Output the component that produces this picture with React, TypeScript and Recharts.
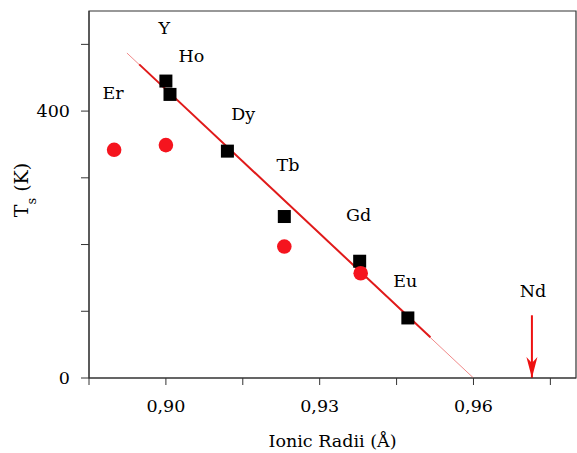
import React from "react";
import {
  ComposedChart,
  Line,
  Scatter,
  XAxis,
  YAxis,
  ReferenceArea,
  Label,
} from "recharts";

// ionic radius (Å) vs T_s (K)
const squareRadii = [0.9, 0.9008, 0.912, 0.9231, 0.9378, 0.9472];
const squareTs = [445, 425, 340, 242, 175, 90];

const circleRadii = [0.8899, 0.9, 0.9231, 0.938];
const circleTs = [342, 349, 197, 157];

// linear fit: faint full extent + solid central part
const fitRadii = [0.8924, 0.96];
const fitTs = [487, 0];
const fitBoldRadii = [0.8948, 0.9516];
const fitBoldTs = [470, 61];

// Nd marker arrow
const ndRadius = 0.9714;
const ndArrowTs = [94, 0];

// element names and where they sit (data units)
const elemNames = ["Y", "Ho", "Er", "Dy", "Tb", "Gd", "Eu", "Nd"];
const elemRadii = [0.8997, 0.905, 0.8897, 0.9151, 0.9238, 0.9376, 0.9467, 0.9716];
const elemTs = [524, 482, 428, 396, 319, 245, 145, 130];

const xTicks = [0.885, 0.9, 0.915, 0.93, 0.945, 0.96, 0.975];
const xLabeled = [0.9, 0.93, 0.96];
const yTicks = [0, 100, 200, 300, 400, 500];
const yLabeled = [0, 400];

const FONT = "DejaVu Serif";

const zip = (xs: number[], ys: number[]) => xs.map((x, i) => ({ x, y: ys[i] }));

const squares = zip(squareRadii, squareTs);
const circles = zip(circleRadii, circleTs);
const fit = zip(fitRadii, fitTs);
const fitBold = zip(fitBoldRadii, fitBoldTs);
const ndArrow = ndArrowTs.map((y) => ({ x: ndRadius, y }));
const ndTip = [{ x: ndRadius, y: 0 }];
const elems = elemNames.map((name, i) => ({ name, x: elemRadii[i], y: elemTs[i] }));

const Square = (p: any) => (
  <rect x={p.cx - 6.5} y={p.cy - 6.5} width={13} height={13} fill="#000" />
);

const Dot = (p: any) => <circle cx={p.cx} cy={p.cy} r={7.3} fill="#f5141e" />;

const ArrowHead = (p: any) => (
  <polygon
    points={`${p.cx},${p.cy} ${p.cx - 5.5},${p.cy - 21} ${p.cx},${p.cy - 15} ${p.cx + 5.5},${p.cy - 21}`}
    fill="#ee1111"
  />
);

const ElemText = (p: any) => (
  <text
    x={p.cx}
    y={p.cy}
    dy="0.35em"
    textAnchor="middle"
    fontFamily={FONT}
    fontSize={17.5}
    fill="#000"
  >
    {p.payload.name}
  </text>
);

const YTitle = () => (
  <text
    x={28}
    y={190}
    transform="rotate(-90, 28, 190)"
    textAnchor="middle"
    fontFamily={FONT}
    fontSize={19}
    fill="#000"
  >
    T
    <tspan baselineShift="sub" fontSize={13}>
      s
    </tspan>
    <tspan> (K)</tspan>
  </text>
);

const tickStyle = { fill: "#000", fontFamily: FONT, fontSize: 17.5 };

export default function App() {
  return (
    <div style={{ position: "absolute", left: 0, top: 0, background: "#fff" }}>
      <ComposedChart
        width={577}
        height={453}
        margin={{ top: 11, right: 1, bottom: 0, left: 0 }}
      >
        <XAxis
          type="number"
          dataKey="x"
          domain={[0.885, 0.98]}
          ticks={xTicks}
          allowDataOverflow
          height={75}
          stroke="#333"
          tickSize={7}
          tickMargin={15}
          tick={tickStyle}
          tickFormatter={(v: number) =>
            xLabeled.some((t) => Math.abs(t - v) < 1e-6) ? v.toFixed(2).replace(".", ",") : ""
          }
        >
          <Label
            value="Ionic Radii (Å)"
            position="insideBottom"
            offset={6}
            fontFamily={FONT}
            fontSize={17.5}
            fill="#000"
          />
        </XAxis>
        <YAxis
          type="number"
          dataKey="y"
          domain={[0, 550]}
          ticks={yTicks}
          allowDataOverflow
          width={89}
          stroke="#333"
          tickSize={8}
          tickMargin={11}
          tick={tickStyle}
          tickFormatter={(v: number) => (yLabeled.includes(v) ? String(v) : "")}
          label={<YTitle />}
        />
        <ReferenceArea
          x1={0.885}
          x2={0.98}
          y1={0}
          y2={550}
          fill="none"
          fillOpacity={0}
          stroke="#333"
          strokeWidth={1.2}
        />
        <Line
          data={fit}
          dataKey="y"
          stroke="#f08a8a"
          strokeWidth={1}
          dot={false}
          isAnimationActive={false}
        />
        <Line
          data={fitBold}
          dataKey="y"
          stroke="#e01a1a"
          strokeWidth={2}
          dot={false}
          isAnimationActive={false}
        />
        <Line
          data={ndArrow}
          dataKey="y"
          stroke="#ee1111"
          strokeWidth={2}
          dot={false}
          isAnimationActive={false}
        />
        <Scatter data={ndTip} shape={ArrowHead} isAnimationActive={false} />
        <Scatter data={squares} shape={Square} isAnimationActive={false} />
        <Scatter data={circles} shape={Dot} isAnimationActive={false} />
        <Scatter data={elems} shape={ElemText} isAnimationActive={false} />
      </ComposedChart>
    </div>
  );
}
